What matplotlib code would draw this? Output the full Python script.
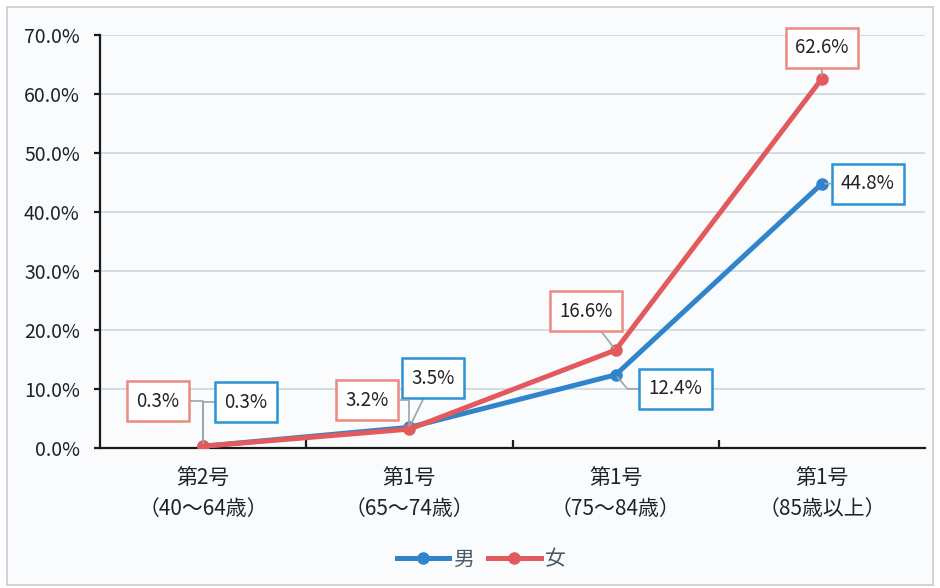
import matplotlib
matplotlib.use('Agg')
import matplotlib.pyplot as plt
from matplotlib.patches import Rectangle
from matplotlib.ticker import FuncFormatter, MultipleLocator

plt.rcParams['font.family'] = ['Noto Sans CJK JP', 'DejaVu Sans']

# ── data ──
categories = ['第2号\n（40～64歳）', '第1号\n（65～74歳）', '第1号\n（75～84歳）', '第1号\n（85歳以上）']
male = [0.3, 3.5, 12.4, 44.8]
female = [0.3, 3.2, 16.6, 62.6]

# label offsets in pixels (x, y) from each point, plus leader style
male_offsets = [(43, 44), (24, 49), (60, -14), (46, 0)]
female_offsets = [(-45, 45), (-42, 29), (-30, 39), (0, 31)]
male_conn = ['angle,angleA=0,angleB=90,rad=0', 'arc3', 'angle,angleA=0,angleB=-50,rad=0', 'arc3']
female_conn = ['angle,angleA=0,angleB=90,rad=0', 'angle,angleA=0,angleB=90,rad=0', 'arc3', 'arc3']

BLUE = '#2f84cc'
RED = '#e25a5c'
BLUE_EDGE = '#2a92d6'
RED_EDGE = '#ea8a80'
BG = '#fafbfd'
TXT = '#1f2328'

fig = plt.figure(figsize=(9.4, 5.88), dpi=100)
fig.patch.set_facecolor('white')
frame = Rectangle((7 / 940, 3 / 588), 926 / 940, 578 / 588, transform=fig.transFigure,
                  facecolor=BG, edgecolor='#c8ccd2', linewidth=1.2, zorder=-10)
fig.add_artist(frame)

ax = fig.add_axes([100 / 940, 140 / 588, 825 / 940, 413 / 588])
ax.set_facecolor(BG)

x = list(range(len(categories)))
ax.plot(x, male, color=BLUE, lw=3.6, marker='o', ms=8, label='男', zorder=4)
ax.plot(x, female, color=RED, lw=3.6, marker='o', ms=8, label='女', zorder=5)

ax.set_xlim(-0.5, 3.5)
ax.set_ylim(0, 70)
ax.yaxis.set_major_locator(MultipleLocator(10))
ax.yaxis.set_major_formatter(FuncFormatter(lambda v, p: f'{v:.1f}%'))
ax.grid(axis='y', color='#c9d6de', lw=1.2)
ax.set_axisbelow(True)

for s in ['top', 'right']:
    ax.spines[s].set_visible(False)
for s in ['left', 'bottom']:
    ax.spines[s].set_color('#1a1a1a')
    ax.spines[s].set_linewidth(1.6)

ax.set_xticks(x)
ax.set_xticklabels(categories, fontsize=15, linespacing=1.5)
ax.tick_params(axis='x', length=0, pad=14, labelcolor=TXT)
ax.set_xticks([0.5, 1.5, 2.5], minor=True)
ax.tick_params(axis='x', which='minor', direction='in', length=6, width=1.6, color='#1a1a1a')
ax.tick_params(axis='y', length=4.5, width=1.6, pad=10, labelsize=14, color='#1a1a1a',
               labelcolor=TXT)


def label_points(values, offsets, conns, edge):
    for xi, (v, off, cs) in enumerate(zip(values, offsets, conns)):
        ax.annotate(f'{v:.1f}%', xy=(xi, v), xytext=off, textcoords='offset pixels',
                    ha='center', va='center', fontsize=13.5, color=TXT,
                    bbox=dict(boxstyle='square,pad=0.5', fc='white', ec=edge, lw=1.8),
                    arrowprops=dict(arrowstyle='-', color='#9aa4aa', lw=1.2,
                                    shrinkA=0, shrinkB=2, connectionstyle=cs),
                    zorder=6, annotation_clip=False)


label_points(male, male_offsets, male_conn, BLUE_EDGE)
label_points(female, female_offsets, female_conn, RED_EDGE)

ax.legend(loc='center', bbox_to_anchor=(0.462, -0.27), ncol=2, frameon=False,
          fontsize=15, handlelength=2.5, columnspacing=0.7, handletextpad=0.2,
          labelcolor='#4a5a66')

fig.savefig('out.png', dpi=100, facecolor=fig.get_facecolor())
